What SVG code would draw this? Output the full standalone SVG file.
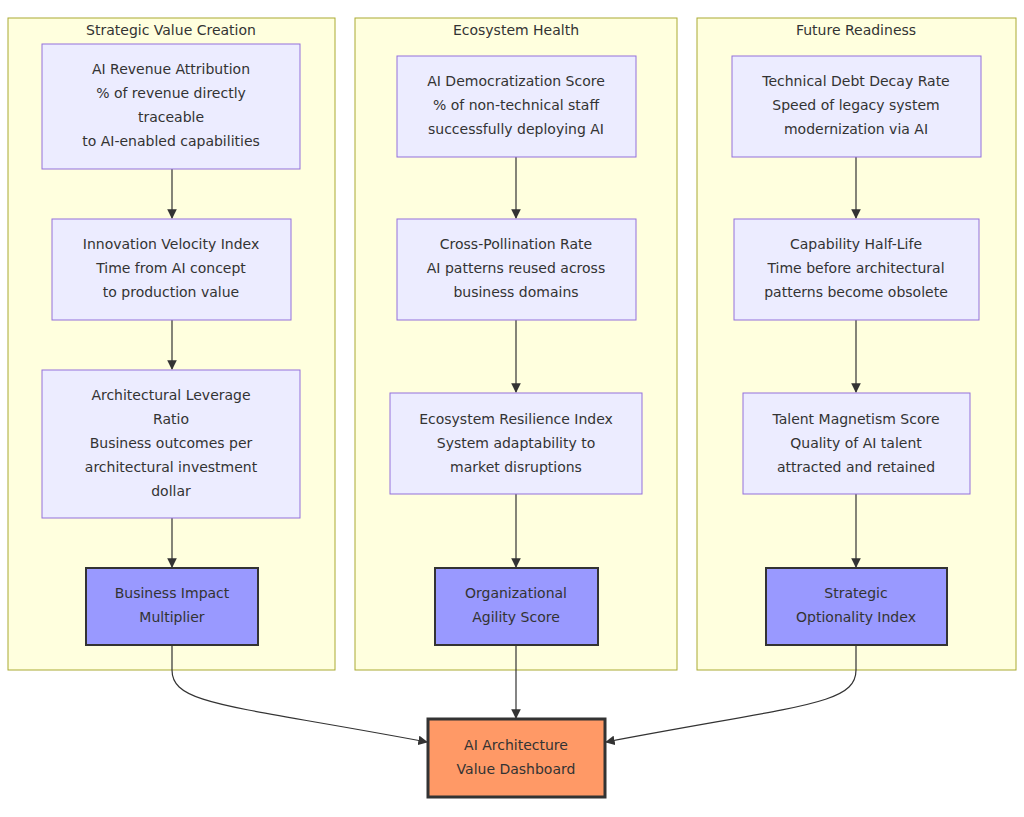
<svg xmlns="http://www.w3.org/2000/svg" width="1024" height="817" viewBox="0 0 1024 817">
<style>
.cl{fill:#ffffde;stroke:#aaaa33;stroke-width:1}
.n{fill:#ececff;stroke:#9370db;stroke-width:1}
.k{fill:#9999ff;stroke:#333;stroke-width:2}
.d{fill:#ff9966;stroke:#333;stroke-width:3}
text{font-family:"DejaVu Sans",sans-serif;font-size:14px;fill:#333;text-anchor:middle;dominant-baseline:middle}
.e{fill:none;stroke:#333;stroke-width:1.2}
</style>
<defs><marker id="ah" viewBox="0 0 10 10" refX="9" refY="5" markerWidth="8" markerHeight="8" orient="auto"><path d="M0,0L10,5L0,10z" fill="#333"/></marker></defs>
<rect width="1024" height="817" fill="#fff"/>
<g id="c1"><rect class="cl" x="8" y="18" width="327" height="652"/><text x="171" y="31">Strategic Value Creation</text></g>
<g id="c2"><rect class="cl" x="355" y="18" width="322" height="652"/><text x="516" y="31">Ecosystem Health</text></g>
<g id="c3"><rect class="cl" x="697" y="18" width="319" height="652"/><text x="856" y="31">Future Readiness</text></g>
<g id="edges">
<path class="e" marker-end="url(#ah)" d="M172,169V218"/>
<path class="e" marker-end="url(#ah)" d="M172,320V369"/>
<path class="e" marker-end="url(#ah)" d="M172,518V567"/>
<path class="e" marker-end="url(#ah)" d="M516,157V218"/>
<path class="e" marker-end="url(#ah)" d="M516,320V392"/>
<path class="e" marker-end="url(#ah)" d="M516,494V567"/>
<path class="e" marker-end="url(#ah)" d="M856,157V218"/>
<path class="e" marker-end="url(#ah)" d="M856,320V392"/>
<path class="e" marker-end="url(#ah)" d="M856,494V567"/>
<path class="e" marker-end="url(#ah)" d="M172,645V670C172,705 230,705 427,742"/>
<path class="e" marker-end="url(#ah)" d="M516,645V718"/>
<path class="e" marker-end="url(#ah)" d="M856,645V670C856,705 800,705 606,742"/>
</g>
<g id="a1"><rect class="n" x="42" y="44" width="258" height="125"/><text x="171" y="70">AI Revenue Attribution</text><text x="171" y="94">% of revenue directly</text><text x="171" y="118">traceable</text><text x="171" y="142">to AI-enabled capabilities</text></g>
<g id="a2"><rect class="n" x="52" y="219" width="239" height="101"/><text x="171" y="245">Innovation Velocity Index</text><text x="171" y="269">Time from AI concept</text><text x="171" y="293">to production value</text></g>
<g id="a3"><rect class="n" x="42" y="370" width="258" height="148"/><text x="171" y="396">Architectural Leverage</text><text x="171" y="420">Ratio</text><text x="171" y="444">Business outcomes per</text><text x="171" y="468">architectural investment</text><text x="171" y="492">dollar</text></g>
<g id="a4"><rect class="k" x="86" y="568" width="172" height="77"/><text x="172" y="594">Business Impact</text><text x="172" y="618">Multiplier</text></g>
<g id="b1"><rect class="n" x="397" y="56" width="239" height="101"/><text x="516" y="82">AI Democratization Score</text><text x="516" y="106">% of non-technical staff</text><text x="516" y="130">successfully deploying AI</text></g>
<g id="b2"><rect class="n" x="397" y="219" width="239" height="101"/><text x="516" y="245">Cross-Pollination Rate</text><text x="516" y="269">AI patterns reused across</text><text x="516" y="293">business domains</text></g>
<g id="b3"><rect class="n" x="390" y="393" width="252" height="101"/><text x="516" y="420">Ecosystem Resilience Index</text><text x="516" y="444">System adaptability to</text><text x="516" y="468">market disruptions</text></g>
<g id="b4"><rect class="k" x="435" y="568" width="163" height="77"/><text x="516" y="594">Organizational</text><text x="516" y="618">Agility Score</text></g>
<g id="c1n"><rect class="n" x="732" y="56" width="249" height="101"/><text x="856" y="82">Technical Debt Decay Rate</text><text x="856" y="106">Speed of legacy system</text><text x="856" y="130">modernization via AI</text></g>
<g id="c2n"><rect class="n" x="734" y="219" width="245" height="101"/><text x="856" y="245">Capability Half-Life</text><text x="856" y="269">Time before architectural</text><text x="856" y="293">patterns become obsolete</text></g>
<g id="c3n"><rect class="n" x="743" y="393" width="227" height="101"/><text x="856" y="420">Talent Magnetism Score</text><text x="856" y="444">Quality of AI talent</text><text x="856" y="468">attracted and retained</text></g>
<g id="c4n"><rect class="k" x="766" y="568" width="181" height="77"/><text x="856" y="594">Strategic</text><text x="856" y="618">Optionality Index</text></g>
<g id="dash"><rect class="d" x="428" y="719" width="177" height="78"/><text x="516" y="746">AI Architecture</text><text x="516" y="770">Value Dashboard</text></g>
</svg>
